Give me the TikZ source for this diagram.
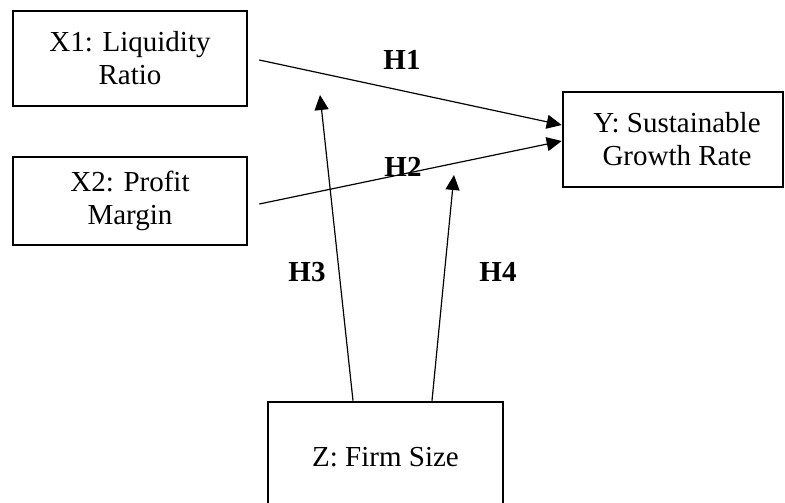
\documentclass[tikz,border=0pt]{standalone}
\usepackage{fontspec}
\setmainfont{Liberation Serif}
\usetikzlibrary{arrows.meta}

\begin{document}
\begin{tikzpicture}[x=1pt, y=-1pt,
    box/.style={draw, line width=2.6pt, align=center, inner sep=0pt,
      font=\fontsize{29}{33}\selectfont},
    hyp/.style={font=\fontsize{29}{33}\selectfont\bfseries, inner sep=0pt},
    link/.style={line width=1.2pt, -{Triangle[length=15pt, width=14pt]}}]
    \useasboundingbox (0, 0) rectangle (785, 503);

    \node [box, minimum width=234pt, minimum height=95pt] (x1) at (130, 58.5)
      {X1: Liquidity\\Ratio};
    \node [box, minimum width=234pt, minimum height=88pt] (x2) at (130, 201)
      {X2: Profit\\Margin};
    \node [box, minimum width=220pt, minimum height=95pt] (y) at (673, 139.5)
      {\hspace*{8pt}Y: Sustainable\\\hspace*{8pt}Growth Rate};
    \node [box, minimum width=235pt, minimum height=110pt] (z) at (385.5, 457)
      {Z: Firm Size};

    \coordinate (h3end) at (320, 95);
    \coordinate (h4end) at (454, 175);

    \draw [link] ([shift={(11pt,-1.5pt)}]x1.east) -- ([yshift=14.5pt]y.west);
    \draw [link] ([shift={(11pt,-3pt)}]x2.east) -- ([yshift=-1.5pt]y.west);
    \draw [link] ([xshift=-32.5pt]z.north) -- (h3end);
    \draw [link] ([xshift=46.5pt]z.north) -- (h4end);

    \node [hyp] (h1) at (402, 60) {H1};
    \node [hyp] (h2) at (403, 167) {H2};
    \node [hyp] (h3) at (307, 272) {H3};
    \node [hyp] (h4) at (498, 272) {H4};
\end{tikzpicture}
\end{document}
